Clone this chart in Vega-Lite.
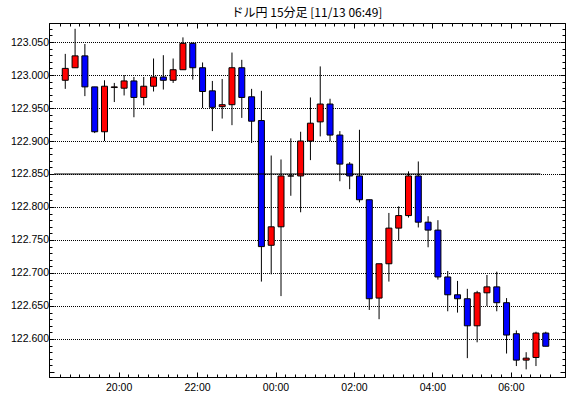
{
  "$schema": "https://vega.github.io/schema/vega-lite/v6.json",
  "width": 516,
  "height": 354,
  "autosize": {"type": "none"},
  "padding": {"left": 49, "top": 23, "right": 5, "bottom": 21},
  "background": "white",
  "title": {"text": "ドル円 15分足 [11/13 06:49]", "font": "Noto Sans CJK JP", "fontSize": 12, "fontWeight": "normal", "color": "black", "anchor": "middle", "offset": 3},
  "config": {
    "view": {"stroke": "black", "strokeWidth": 1},
    "axis": {"labelFont": "Liberation Sans", "labelFontSize": 10.5, "labelColor": "black", "tickColor": "black", "domainColor": "black", "tickWidth": 1, "domainWidth": 1, "labelOverlap": false, "labelFlush": false}
  },
  "datasets": {
    "candles": [
      {"t": "2015-11-12T18:30:00Z", "o": 122.992, "h": 123.032, "l": 122.979, "c": 123.010},
      {"t": "2015-11-12T18:45:00Z", "o": 123.011, "h": 123.070, "l": 123.011, "c": 123.029},
      {"t": "2015-11-12T19:00:00Z", "o": 123.029, "h": 123.047, "l": 122.968, "c": 122.982},
      {"t": "2015-11-12T19:15:00Z", "o": 122.982, "h": 122.982, "l": 122.912, "c": 122.914},
      {"t": "2015-11-12T19:30:00Z", "o": 122.914, "h": 122.992, "l": 122.900, "c": 122.983},
      {"t": "2015-11-12T19:45:00Z", "o": 122.981, "h": 122.988, "l": 122.959, "c": 122.982},
      {"t": "2015-11-12T20:00:00Z", "o": 122.980, "h": 123.000, "l": 122.969, "c": 122.991},
      {"t": "2015-11-12T20:15:00Z", "o": 122.991, "h": 122.997, "l": 122.936, "c": 122.966},
      {"t": "2015-11-12T20:30:00Z", "o": 122.966, "h": 122.997, "l": 122.954, "c": 122.983},
      {"t": "2015-11-12T20:45:00Z", "o": 122.983, "h": 123.025, "l": 122.975, "c": 122.997},
      {"t": "2015-11-12T21:00:00Z", "o": 122.997, "h": 123.030, "l": 122.978, "c": 122.992},
      {"t": "2015-11-12T21:15:00Z", "o": 122.992, "h": 123.025, "l": 122.988, "c": 123.008},
      {"t": "2015-11-12T21:30:00Z", "o": 123.008, "h": 123.057, "l": 123.008, "c": 123.048},
      {"t": "2015-11-12T21:45:00Z", "o": 123.048, "h": 123.049, "l": 122.993, "c": 123.011},
      {"t": "2015-11-12T22:00:00Z", "o": 123.011, "h": 123.019, "l": 122.950, "c": 122.975},
      {"t": "2015-11-12T22:15:00Z", "o": 122.976, "h": 122.991, "l": 122.915, "c": 122.951},
      {"t": "2015-11-12T22:30:00Z", "o": 122.952, "h": 122.994, "l": 122.934, "c": 122.955},
      {"t": "2015-11-12T22:45:00Z", "o": 122.955, "h": 123.034, "l": 122.924, "c": 123.011},
      {"t": "2015-11-12T23:00:00Z", "o": 123.011, "h": 123.023, "l": 122.935, "c": 122.966},
      {"t": "2015-11-12T23:15:00Z", "o": 122.967, "h": 122.979, "l": 122.897, "c": 122.930},
      {"t": "2015-11-12T23:30:00Z", "o": 122.931, "h": 122.976, "l": 122.687, "c": 122.740},
      {"t": "2015-11-12T23:45:00Z", "o": 122.742, "h": 122.878, "l": 122.698, "c": 122.770},
      {"t": "2015-11-13T00:00:00Z", "o": 122.770, "h": 122.872, "l": 122.665, "c": 122.847},
      {"t": "2015-11-13T00:15:00Z", "o": 122.847, "h": 122.904, "l": 122.817, "c": 122.847},
      {"t": "2015-11-13T00:30:00Z", "o": 122.847, "h": 122.914, "l": 122.792, "c": 122.900},
      {"t": "2015-11-13T00:45:00Z", "o": 122.900, "h": 122.966, "l": 122.871, "c": 122.927},
      {"t": "2015-11-13T01:00:00Z", "o": 122.929, "h": 123.013, "l": 122.907, "c": 122.956},
      {"t": "2015-11-13T01:15:00Z", "o": 122.956, "h": 122.964, "l": 122.900, "c": 122.909},
      {"t": "2015-11-13T01:30:00Z", "o": 122.909, "h": 122.915, "l": 122.839, "c": 122.865},
      {"t": "2015-11-13T01:45:00Z", "o": 122.865, "h": 122.868, "l": 122.827, "c": 122.847},
      {"t": "2015-11-13T02:00:00Z", "o": 122.847, "h": 122.917, "l": 122.807, "c": 122.811},
      {"t": "2015-11-13T02:15:00Z", "o": 122.811, "h": 122.811, "l": 122.644, "c": 122.661},
      {"t": "2015-11-13T02:30:00Z", "o": 122.662, "h": 122.714, "l": 122.630, "c": 122.714},
      {"t": "2015-11-13T02:45:00Z", "o": 122.714, "h": 122.791, "l": 122.687, "c": 122.768},
      {"t": "2015-11-13T03:00:00Z", "o": 122.768, "h": 122.801, "l": 122.749, "c": 122.787},
      {"t": "2015-11-13T03:15:00Z", "o": 122.787, "h": 122.854, "l": 122.784, "c": 122.847},
      {"t": "2015-11-13T03:30:00Z", "o": 122.847, "h": 122.869, "l": 122.769, "c": 122.777},
      {"t": "2015-11-13T03:45:00Z", "o": 122.777, "h": 122.786, "l": 122.739, "c": 122.765},
      {"t": "2015-11-13T04:00:00Z", "o": 122.765, "h": 122.780, "l": 122.690, "c": 122.694},
      {"t": "2015-11-13T04:15:00Z", "o": 122.694, "h": 122.703, "l": 122.642, "c": 122.667},
      {"t": "2015-11-13T04:30:00Z", "o": 122.667, "h": 122.688, "l": 122.640, "c": 122.661},
      {"t": "2015-11-13T04:45:00Z", "o": 122.661, "h": 122.676, "l": 122.571, "c": 122.620},
      {"t": "2015-11-13T05:00:00Z", "o": 122.620, "h": 122.673, "l": 122.595, "c": 122.670},
      {"t": "2015-11-13T05:15:00Z", "o": 122.670, "h": 122.697, "l": 122.650, "c": 122.679},
      {"t": "2015-11-13T05:30:00Z", "o": 122.679, "h": 122.702, "l": 122.642, "c": 122.655},
      {"t": "2015-11-13T05:45:00Z", "o": 122.655, "h": 122.662, "l": 122.578, "c": 122.606},
      {"t": "2015-11-13T06:00:00Z", "o": 122.608, "h": 122.613, "l": 122.559, "c": 122.568},
      {"t": "2015-11-13T06:15:00Z", "o": 122.568, "h": 122.580, "l": 122.554, "c": 122.571},
      {"t": "2015-11-13T06:30:00Z", "o": 122.572, "h": 122.611, "l": 122.559, "c": 122.609},
      {"t": "2015-11-13T06:45:00Z", "o": 122.609, "h": 122.611, "l": 122.589, "c": 122.589}
    ],
    "ref": [
      {"p": 122.85, "s": "2015-11-12T18:12:45Z", "e": "2015-11-13T06:36:45Z"}
    ]
  },
  "layer": [
    {
      "data": {"name": "candles"},
      "mark": {"type": "rule", "color": "black", "strokeWidth": 1},
      "encoding": {
        "x": {
          "field": "t", "type": "temporal",
          "scale": {"type": "utc", "domain": ["2015-11-12T18:12:45Z", "2015-11-13T07:06:45Z"]},
          "axis": {
            "orient": "bottom",
            "title": null,
            "values": [1447353000000,1447353900000,1447354800000,1447355700000,1447356600000,1447357500000,1447358400000,1447359300000,1447360200000,1447361100000,1447362000000,1447362900000,1447363800000,1447364700000,1447365600000,1447366500000,1447367400000,1447368300000,1447369200000,1447370100000,1447371000000,1447371900000,1447372800000,1447373700000,1447374600000,1447375500000,1447376400000,1447377300000,1447378200000,1447379100000,1447380000000,1447380900000,1447381800000,1447382700000,1447383600000,1447384500000,1447385400000,1447386300000,1447387200000,1447388100000,1447389000000,1447389900000,1447390800000,1447391700000,1447392600000,1447393500000,1447394400000,1447395300000,1447396200000,1447397100000,1447398000000],
            "tickOffset": -5.5,
            "labelExpr": "utcminutes(datum.value) === 0 && utchours(datum.value) % 2 === 0 ? utcFormat(datum.value, '%H:%M') : ''",
            "tickSize": {"condition": {"test": "utcminutes(datum.value) === 0 && utchours(datum.value) % 2 === 0", "value": -5}, "value": -3},
            "labelPadding": 10.5,
            "grid": false
          }
        },
        "y": {
          "field": "l", "type": "quantitative",
          "scale": {"domain": [122.542424, 123.078788], "zero": false, "nice": false},
          "axis": {
            "orient": "left",
            "title": null,
            "values": [122.55,122.56,122.57,122.58,122.59,122.60,122.61,122.62,122.63,122.64,122.65,122.66,122.67,122.68,122.69,122.70,122.71,122.72,122.73,122.74,122.75,122.76,122.77,122.78,122.79,122.80,122.81,122.82,122.83,122.84,122.85,122.86,122.87,122.88,122.89,122.90,122.91,122.92,122.93,122.94,122.95,122.96,122.97,122.98,122.99,123.00,123.01,123.02,123.03,123.04,123.05,123.06,123.07],
            "labelExpr": "round(datum.value * 1000) % 50 === 0 && datum.value > 122.58 ? format(datum.value, '.3f') : ''",
            "tickSize": {"condition": {"test": "round(datum.value * 1000) % 50 === 0", "value": -5}, "value": -3},
            "labelPadding": 5.5,
            "grid": true,
            "gridColor": "black",
            "gridDash": [1, 1],
            "gridDashOffset": 0.5,
            "gridWidth": 1,
            "gridOpacity": {"condition": {"test": "round(datum.value * 1000) % 50 === 0 && datum.value > 122.58", "value": 1}, "value": 0}
          }
        },
        "y2": {"field": "h"}
      }
    },
    {
      "data": {"name": "candles"},
      "mark": {"type": "bar", "width": 6, "stroke": "black", "strokeWidth": 1},
      "encoding": {
        "x": {
          "field": "t", "type": "temporal",
          "scale": {"type": "utc", "domain": ["2015-11-12T18:12:45Z", "2015-11-13T07:06:45Z"]},
          "axis": {
            "orient": "top",
            "title": null,
            "values": [1447353000000,1447353900000,1447354800000,1447355700000,1447356600000,1447357500000,1447358400000,1447359300000,1447360200000,1447361100000,1447362000000,1447362900000,1447363800000,1447364700000,1447365600000,1447366500000,1447367400000,1447368300000,1447369200000,1447370100000,1447371000000,1447371900000,1447372800000,1447373700000,1447374600000,1447375500000,1447376400000,1447377300000,1447378200000,1447379100000,1447380000000,1447380900000,1447381800000,1447382700000,1447383600000,1447384500000,1447385400000,1447386300000,1447387200000,1447388100000,1447389000000,1447389900000,1447390800000,1447391700000,1447392600000,1447393500000,1447394400000,1447395300000,1447396200000,1447397100000,1447398000000],
            "tickOffset": -5.5,
            "labels": false,
            "tickSize": {"condition": {"test": "utcminutes(datum.value) === 0 && utchours(datum.value) % 2 === 0", "value": -5}, "value": -3},
            "grid": false
          }
        },
        "y": {
          "field": "o", "type": "quantitative",
          "scale": {"domain": [122.542424, 123.078788], "zero": false, "nice": false},
          "axis": {
            "orient": "right",
            "title": null,
            "values": [122.55,122.56,122.57,122.58,122.59,122.60,122.61,122.62,122.63,122.64,122.65,122.66,122.67,122.68,122.69,122.70,122.71,122.72,122.73,122.74,122.75,122.76,122.77,122.78,122.79,122.80,122.81,122.82,122.83,122.84,122.85,122.86,122.87,122.88,122.89,122.90,122.91,122.92,122.93,122.94,122.95,122.96,122.97,122.98,122.99,123.00,123.01,123.02,123.03,123.04,123.05,123.06,123.07],
            "labels": false,
            "tickSize": {"condition": {"test": "round(datum.value * 1000) % 50 === 0", "value": -5}, "value": -3},
            "grid": false
          }
        },
        "y2": {"field": "c"},
        "color": {"condition": {"test": "datum.c >= datum.o", "value": "#ff0000"}, "value": "#0000ff"}
      }
    },
    {
      "data": {"name": "ref"},
      "mark": {"type": "rule", "color": "black", "strokeWidth": 1},
      "encoding": {
        "x": {"field": "s", "type": "temporal", "scale": {"type": "utc", "domain": ["2015-11-12T18:12:45Z", "2015-11-13T07:06:45Z"]}, "axis": null},
        "x2": {"field": "e"},
        "y": {"field": "p", "type": "quantitative", "scale": {"domain": [122.542424, 123.078788], "zero": false, "nice": false}, "axis": null}
      }
    }
  ]
}
